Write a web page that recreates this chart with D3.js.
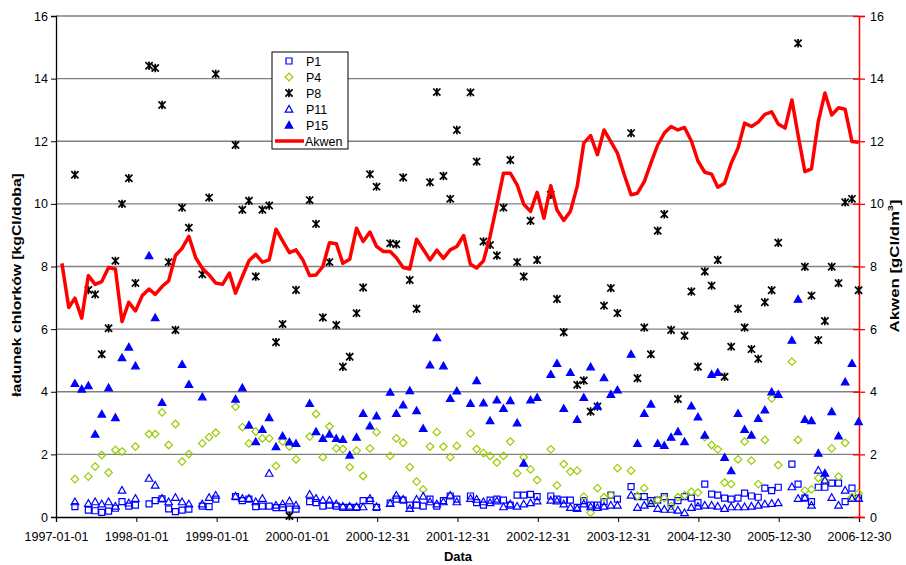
<!DOCTYPE html>
<html>
<head>
<meta charset="utf-8">
<script src="https://cdn.jsdelivr.net/npm/d3@7"></script>
<style>
    body { margin: 0; background: #fff; }
    text { font-family: "Liberation Sans", Arial, sans-serif; }
</style>
</head>
<body>
<div id="picture"></div>
<script>
var _ = null;

// one sample per month, starting end of January 1997
var firstSample = "1997-01-28";
var xTickLabels = ["1997-01-01", "1998-01-01", "1999-01-01", "2000-01-01", "2000-12-31",
    "2001-12-31", "2002-12-31", "2003-12-31", "2004-12-30", "2005-12-30", "2006-12-30"];
var yTicks = [0, 2, 4, 6, 8, 10, 12, 14, 16];

var akwen = [
    8.10, 6.69, 6.99, 6.35, 7.71, 7.43, 7.52, 7.97, 7.92, 6.24, 6.86, 6.58,
    7.07, 7.28, 7.11, 7.36, 7.54, 8.35, 8.58, 8.96, 8.28, 7.94, 7.73, 7.47,
    7.43, 7.79, 7.15, 7.68, 8.18, 8.39, 8.14, 8.21, 9.19, 8.82, 8.44, 8.53,
    8.21, 7.71, 7.73, 8.00, 8.76, 8.73, 8.10, 8.23, 9.22, 8.80, 9.10, 8.64,
    8.48, 8.48, 8.28, 7.97, 7.92, 8.87, 8.55, 8.21, 8.52, 8.26, 8.53, 8.64,
    8.99, 8.07, 7.95, 8.18, 8.96, 9.97, 10.98, 10.98, 10.61, 9.99, 9.76, 10.37,
    9.54, 10.58, 9.81, 9.47, 9.76, 10.55, 11.94, 12.18, 11.57, 12.36, 11.99, 11.62,
    10.93, 10.29, 10.34, 10.71, 11.30, 11.88, 12.26, 12.47, 12.36, 12.44, 12.01, 11.37,
    11.01, 10.95, 10.53, 10.66, 11.30, 11.78, 12.58, 12.47, 12.61, 12.86, 12.94, 12.55,
    12.42, 13.32, 12.20, 11.03, 11.12, 12.63, 13.54, 12.84, 13.07, 13.02, 11.99, 11.97];

var p1 = [
    _, _, 0.33, _, 0.22, 0.20, 0.15, 0.19, 0.28, 0.49, 0.35, 0.38,
    _, 0.42, 0.52, 0.58, 0.26, 0.17, 0.22, 0.25, _, 0.35, 0.33, 0.57,
    _, _, 0.65, 0.52, 0.57, 0.33, 0.35, 0.35, 0.30, 0.30, 0.25, 0.25,
    _, 0.49, 0.46, 0.35, 0.38, 0.35, 0.31, 0.31, 0.31, 0.52, 0.52, 0.31,
    _, 0.44, 0.57, 0.54, 0.38, 0.38, 0.35, 0.57, 0.35, 0.52, 0.67, 0.57,
    _, 0.67, 0.46, 0.38, 0.54, 0.57, 0.54, 0.38, 0.70, 0.70, 0.72, 0.65,
    _, 0.67, 0.57, 0.54, 0.54, 0.31, 0.52, 0.38, 0.38, 0.49, 0.70, 0.57,
    _, 0.97, 0.65, 0.65, 0.52, 0.54, 0.65, 0.46, 0.52, 0.65, 0.60, 0.46,
    1.05, 0.73, 0.70, 0.60, 0.57, 0.60, 0.76, 0.67, 0.63, 0.92, 0.84, 0.95,
    _, 1.69, 1.05, 0.60, 0.49, 0.95, 0.95, 1.08, 1.08, 0.49, 0.92, 0.60];

var p4 = [
    _, _, 1.21, _, 1.29, 1.61, 1.98, 1.42, 2.14, 2.09, _, 2.25,
    _, 2.65, 2.65, 3.34, 2.30, 2.97, 1.77, 2.01, _, 2.35, 2.55, 2.69,
    _, _, 3.52, 2.87, 2.35, 2.73, 2.51, 2.51, 1.63, 2.41, 2.25, 1.84,
    _, 2.57, 3.29, 1.91, 2.89, 2.19, 2.17, 1.59, 2.12, 1.31, 2.19, 2.71,
    _, 1.95, 2.51, 2.37, 1.59, 1.13, 0.88, 2.25, 2.71, 2.25, 1.91, 2.27,
    _, 2.67, 2.17, 2.04, 1.95, 1.74, 1.95, 2.41, 1.40, 1.91, 1.52, 1.18,
    _, 2.16, 1.01, 1.69, 1.45, 1.48, 0.65, 0.14, 0.92, 0.63, 0.70, 1.56,
    _, 1.48, 0.67, 0.92, 0.44, 0.54, 0.60, 0.35, 0.63, 0.70, 0.81, 0.78,
    2.55, 2.30, 2.16, 1.10, 1.05, 1.84, 2.41, 1.80, 1.05, 2.46, 3.79, 1.66,
    _, 4.96, 2.46, 0.84, 0.88, 1.24, 1.16, 2.19, 1.29, 2.37, 0.63, 0.76];

var p8 = [
    _, _, 10.93, _, 7.25, 7.11, 5.20, 6.03, 8.18, 10.00, 10.82, 7.47,
    _, 14.41, 14.34, 13.16, 8.14, 5.97, 9.88, 9.24, _, 7.75, 10.20, 14.15,
    _, _, 11.88, 9.81, 10.10, 7.68, 9.81, 9.95, 5.58, 6.16, 0.03, 7.25,
    _, 10.12, 9.36, 6.37, 8.14, 6.13, 4.80, 5.12, 6.51, 7.33, 10.95, 10.55,
    _, 8.74, 8.71, 10.84, 7.57, 6.65, _, 10.69, 13.57, 10.89, 10.16, 12.36,
    _, 13.56, 11.35, 8.80, 8.69, 8.35, 9.88, 11.40, 8.14, 7.68, 9.46, 8.21,
    _, 10.29, 6.96, 5.90, _, 4.22, 4.36, 3.37, 3.53, 6.75, 7.31, 6.51,
    _, 12.26, 4.43, 6.05, 5.20, 9.14, 9.67, 5.97, 3.77, 5.79, 7.20, 4.80,
    7.84, 7.39, 8.21, 4.48, 5.44, 6.65, 6.05, 5.36, 5.05, 6.86, 7.24, 8.76,
    _, _, 15.13, 7.99, 7.07, 5.65, 6.26, 7.99, 7.47, 10.05, 10.16, 7.24];

var p11 = [
    _, _, 0.49, _, 0.44, 0.49, 0.42, 0.49, 0.35, 0.86, 0.45, 0.60,
    _, 1.24, 1.02, 0.60, 0.49, 0.63, 0.49, 0.42, _, 0.42, 0.63, 0.70,
    _, _, 0.67, 0.60, 0.60, 0.49, 0.60, 1.40, 0.38, 0.42, 0.52, 0.38,
    _, 0.73, 0.60, 0.54, 0.54, 0.42, 0.35, 0.35, 0.33, 0.33, 0.60, 0.33,
    _, 0.44, 0.70, 0.57, 0.28, 0.57, 0.67, 0.49, 0.42, 0.49, 0.70, 0.49,
    _, 0.60, 0.57, 0.49, 0.46, 0.52, 0.33, 0.42, 0.35, 0.42, 0.46, 0.52,
    _, 0.54, 0.52, 0.42, 0.31, 0.28, 0.42, 0.33, 0.31, 0.35, 0.38, 0.38,
    _, 0.70, 0.31, 0.38, 0.44, 0.28, 0.25, 0.25, 0.22, 0.14, 0.31, 0.35,
    0.38, 0.38, 0.35, 0.28, 0.33, 0.33, 0.33, 0.35, 0.38, 0.42, 0.44, 0.46,
    _, 0.97, 0.60, 0.63, 0.38, 1.50, 1.18, 0.63, 0.38, 0.86, 0.60, 0.60];

var p15 = [
    _, _, 4.27, 4.09, 4.20, 2.65, 3.29, 4.13, 3.18, 5.09, 5.43, 4.83,
    _, 8.35, 6.37, 3.66, _, _, 4.88, 4.24, _, 3.84, _, _,
    _, _, 3.77, 4.13, 2.94, 2.41, 2.80, 3.18, 2.25, 2.59, 2.40, 2.35,
    _, 3.63, 2.73, 2.51, 2.65, 2.51, 2.48, 1.98, 2.55, 3.31, 2.91, 3.23,
    _, 3.99, 3.31, 3.58, 4.04, 3.40, 2.83, 4.86, 5.73, 4.83, 3.79, 4.03,
    _, 3.63, 4.36, 3.65, 3.08, 3.74, 3.47, 3.72, 3.01, 1.72, 3.74, 3.82,
    _, 4.56, 4.91, 3.47, 4.62, 3.12, 3.82, 4.80, 3.55, 4.45, 3.92, 4.06,
    _, 5.20, 2.35, 3.31, 3.61, 2.35, 2.29, 2.55, 2.73, 2.41, 3.55, 3.20,
    2.62, 4.56, 4.62, 1.91, 1.48, 3.31, 2.80, 2.62, 3.15, 3.42, 4.00, 3.92,
    _, 5.65, 6.96, 3.12, 3.08, 2.04, 1.40, 3.37, 2.59, 4.32, 4.91, 3.05];

function markerPath(shape) {
    if (shape === "square") { return "M-3,-3h6v6h-6z"; }
    if (shape === "diamond") { return "M0,-3.8L3.8,0L0,3.8L-3.8,0Z"; }
    if (shape === "triangle") { return "M0,-3.6L3.8,3.1L-3.8,3.1Z"; }
    return "M-3.6,-3.6L3.6,3.6M-3.6,3.6L3.6,-3.6M0,-4.2V4.2";
}

function draw() {
    "use strict";

    var width = 906, height = 565;
    var left = 56, right = 859, top = 16, bottom = 517;
    var parse = d3.utcParse("%Y-%m-%d");
    var start = parse(firstSample);

    var series = [
        { name: "P1", values: p1, shape: "square", stroke: "#0000ff", fill: "none" },
        { name: "P4", values: p4, shape: "diamond", stroke: "#99cc00", fill: "none" },
        { name: "P8", values: p8, shape: "star", stroke: "#000000", fill: "none" },
        { name: "P11", values: p11, shape: "triangle", stroke: "#0000ff", fill: "none" },
        { name: "P15", values: p15, shape: "triangle", stroke: "#0000ff", fill: "#0000ff" }
    ];

    var svg = d3.select("#picture")
        .append("svg")
        .attr("width", width)
        .attr("height", height);

    var x_scale = d3.scaleUtc()
        .domain([parse(xTickLabels[0]), parse(xTickLabels[xTickLabels.length - 1])])
        .range([left, right]);
    var y_scale = d3.scaleLinear().domain([0, 16]).range([bottom, top]);
    var y2_scale = d3.scaleLinear().domain([0, 16]).range([bottom, top]);

    // horizontal grid
    svg.append("g")
        .selectAll("line")
        .data(yTicks.filter(function (d) { return d > 0; }))
        .enter()
        .append("line")
        .attr("x1", left)
        .attr("x2", right)
        .attr("y1", function (d) { return y_scale(d); })
        .attr("y2", function (d) { return y_scale(d); })
        .attr("stroke", "#808080")
        .attr("stroke-width", 1.3);

    var y_axis = d3.axisLeft(y_scale).tickValues(yTicks).tickSize(5).tickPadding(3);
    var gy = svg.append("g")
        .attr("class", "y_axis")
        .attr("transform", "translate(" + left + ", 0)")
        .call(y_axis);
    gy.selectAll("text").attr("font-size", 12.5).attr("fill", "#000");
    gy.select(".domain").attr("stroke", "#000").attr("stroke-width", 1.3);
    gy.selectAll(".tick line").attr("stroke", "#000");

    var x_axis = d3.axisBottom(x_scale)
        .tickValues(xTickLabels.map(parse))
        .tickFormat(d3.utcFormat("%Y-%m-%d"))
        .tickSize(5)
        .tickPadding(10);
    var gx = svg.append("g")
        .attr("class", "x_axis")
        .attr("transform", "translate(0, " + bottom + ")")
        .call(x_axis);
    gx.selectAll("text").attr("font-size", 12.5).attr("fill", "#000");
    gx.select(".domain").attr("stroke", "#000").attr("stroke-width", 1.3);
    gx.selectAll(".tick line").attr("stroke", "#000");

    var y2_axis = d3.axisRight(y2_scale).tickValues(yTicks).tickSize(6).tickPadding(5);
    var gy2 = svg.append("g")
        .attr("class", "y2_axis")
        .attr("transform", "translate(" + right + ", 0)")
        .call(y2_axis);
    gy2.selectAll("text").attr("font-size", 12.5).attr("fill", "#000");
    gy2.select(".domain").attr("stroke", "#ff0000").attr("stroke-width", 1.5);
    gy2.selectAll(".tick line").attr("stroke", "#ff0000").attr("stroke-width", 1.3).attr("x1", -6);

    // scatter series
    series.forEach(function (s) {
        var pts = s.values
            .map(function (v, i) { return { date: d3.utcMonth.offset(start, i), val: v }; })
            .filter(function (d) { return d.val !== null; });
        svg.append("g")
            .selectAll("path")
            .data(pts)
            .enter()
            .append("path")
            .attr("d", markerPath(s.shape))
            .attr("transform", function (d) {
                return "translate(" + x_scale(d.date) + "," + y_scale(d.val) + ")";
            })
            .attr("fill", s.fill)
            .attr("stroke", s.stroke)
            .attr("stroke-width", s.shape === "star" ? 1.7 : 1.2);
    });

    var line = d3.line()
        .x(function (d, i) { return x_scale(d3.utcMonth.offset(start, i)); })
        .y(function (d) { return y2_scale(d); });

    svg.append("path")
        .attr("d", line(akwen))
        .attr("fill", "none")
        .attr("stroke", "#ff0000")
        .attr("stroke-width", 3.5)
        .attr("stroke-linejoin", "round");

    // axis titles
    var t1 = svg.append("text")
        .attr("text-anchor", "middle")
        .attr("font-size", 13)
        .attr("font-weight", "bold")
        .text("ładunek chlorków [kgCl/doba]");
    var k1 = 224 / t1.node().getComputedTextLength();
    t1.attr("transform", "translate(21, 285) rotate(-90) scale(" + k1 + ", 1)");

    var t2 = svg.append("text")
        .attr("text-anchor", "middle")
        .attr("font-size", 13)
        .attr("font-weight", "bold");
    t2.append("tspan").text("Akwen [gCl/dm");
    t2.append("tspan").attr("font-size", 8).attr("dy", -6).text("3");
    t2.append("tspan").attr("dy", 6).text("]");
    var k2 = 133 / t2.node().getComputedTextLength();
    t2.attr("transform", "translate(899, 266) rotate(-90) scale(" + k2 + ", 1)");

    svg.append("text")
        .attr("x", 458)
        .attr("y", 561)
        .attr("text-anchor", "middle")
        .attr("font-size", 13)
        .attr("font-weight", "bold")
        .text("Data");

    // legend
    var legend = svg.append("g").attr("transform", "translate(272, 52)");
    legend.append("rect")
        .attr("width", 76)
        .attr("height", 97)
        .attr("fill", "#fff")
        .attr("stroke", "#000")
        .attr("stroke-width", 1);

    var items = legend.selectAll("g.item")
        .data(series)
        .enter()
        .append("g")
        .attr("class", "item")
        .attr("transform", function (d, i) { return "translate(0, " + (9 + i * 16) + ")"; });
    items.append("path")
        .attr("d", function (d) { return markerPath(d.shape); })
        .attr("transform", "translate(17, 0)")
        .attr("fill", function (d) { return d.fill; })
        .attr("stroke", function (d) { return d.stroke; })
        .attr("stroke-width", function (d) { return d.shape === "star" ? 1.7 : 1.2; });
    items.append("text")
        .attr("x", 34)
        .attr("y", 4.5)
        .attr("font-size", 12.5)
        .text(function (d) { return d.name; });

    var ak = legend.append("g").attr("transform", "translate(0, " + (9 + 5 * 16) + ")");
    ak.append("line")
        .attr("x1", 3).attr("x2", 32)
        .attr("stroke", "#ff0000")
        .attr("stroke-width", 3.5);
    ak.append("text")
        .attr("x", 33)
        .attr("y", 4.5)
        .attr("font-size", 12.5)
        .text("Akwen");
}

draw();
</script>
</body>
</html>
